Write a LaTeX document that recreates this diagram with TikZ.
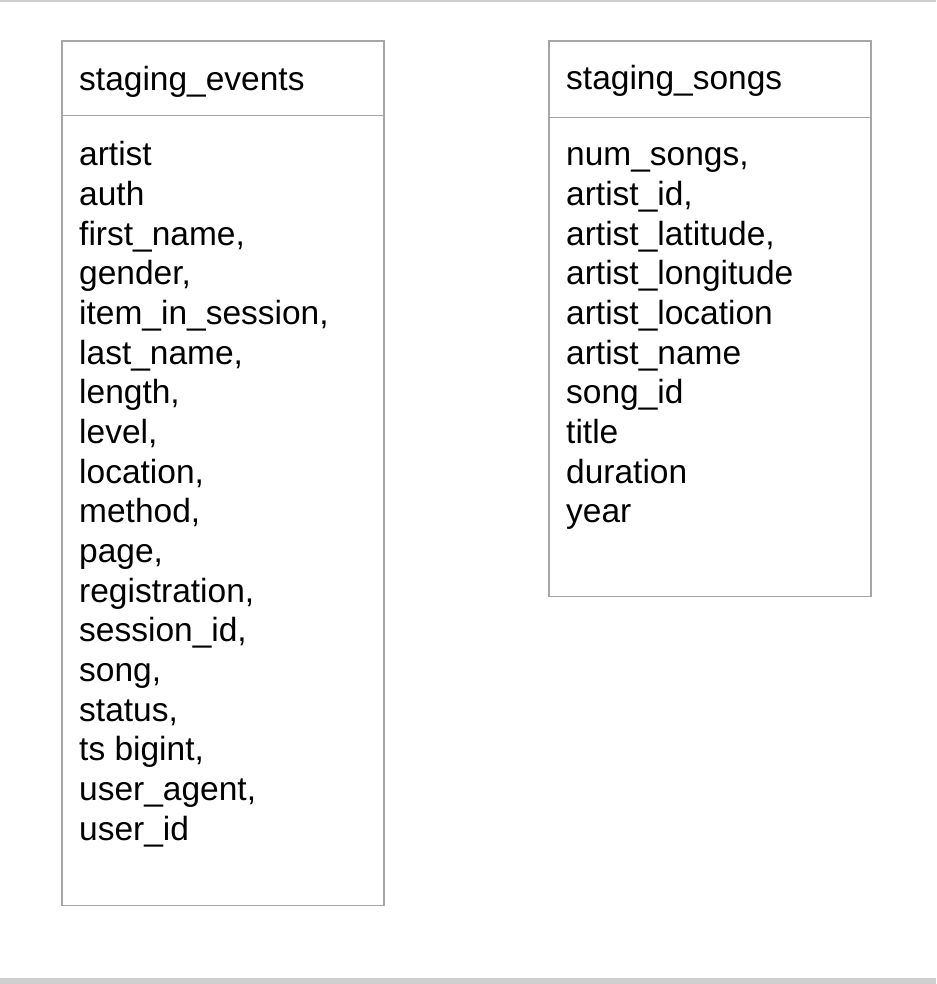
\documentclass[tikz,border=0pt]{standalone}
\usepackage{fontspec}
\setmainfont{Liberation Sans}
\definecolor{boxline}{HTML}{A6A6A6}
\definecolor{frameline}{HTML}{CFCFCF}
\begin{document}
\begin{tikzpicture}[x=1pt,y=-1pt,
  tablebox/.style={draw=boxline,line width=1.6pt,anchor=north west,inner sep=0pt,minimum width=322pt},
  txt/.style={anchor=base west,inner sep=0pt,font=\fontsize{33.5}{40}\selectfont,text=black},
  divider/.style={draw=boxline,line width=1.6pt}]
\useasboundingbox (0,0) rectangle (936,984);
\fill[frameline] (0,0) rectangle (936,2.5);
\fill[frameline] (0,978) rectangle (936,984);
% left table
\node[tablebox,minimum height=864pt] (boxE) at (61,40.5) {};
\coordinate (dEl) at (61,115.5);
\coordinate (dEr) at (383,115.5);
\draw[divider] (dEl) -- (dEr);
\node[txt] (titleE) at (79,91) {staging\_events};
\foreach \t [count=\i] in {artist,auth,first\_name{,},gender{,},item\_in\_session{,},last\_name{,},length{,},level{,},location{,},method{,},page{,},registration{,},session\_id{,},song{,},status{,},ts bigint{,},user\_agent{,},user\_id}
  \node[txt] (e\i) at (79,{166+39.65*(\i-1)}) {\t};
% right table
\node[tablebox,minimum height=555pt] (boxS) at (548,40.5) {};
\coordinate (dSl) at (548,117.5);
\coordinate (dSr) at (870,117.5);
\draw[divider] (dSl) -- (dSr);
\node[txt] (titleS) at (566,90) {staging\_songs};
\foreach \t [count=\i] in {num\_songs{,},artist\_id{,},artist\_latitude{,},artist\_longitude,artist\_location,artist\_name,song\_id,title,duration,year}
  \node[txt] (s\i) at (566,{166+39.65*(\i-1)}) {\t};
\end{tikzpicture}
\end{document}
